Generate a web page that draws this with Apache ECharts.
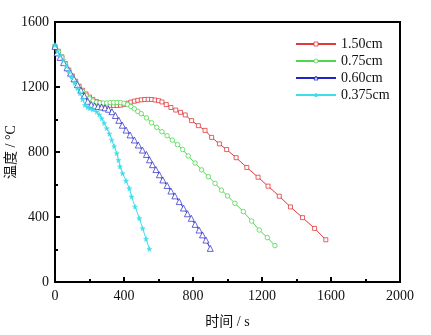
<!DOCTYPE html>
<html>
<head>
<meta charset="utf-8">
<script src="https://cdn.jsdelivr.net/npm/echarts@6/dist/echarts.min.js"></script>
<style>html,body{margin:0;padding:0;background:#fff;}#c{width:431px;height:335px;}</style>
</head>
<body>
<div id="c"></div>
<script>
var seriesNames = ['1.50cm', '0.75cm', '0.60cm', '0.375cm'];
var xTicks = [0, 400, 800, 1200, 1600, 2000];
var yTicks = [0, 400, 800, 1200, 1600];

var t150 = [0,20,40,60,80,100,120,140,160,180,200,220,240,260,280,300,320,340,360,380,400,420,440,460,480,500,520,540,560,580,600,620,645,672,700,728,755,792,831,870,908,953,995,1050,1112,1177,1235,1300,1365,1435,1505,1570];
var T150 = [1450,1420,1385,1345,1305,1268,1235,1205,1180,1157,1138,1122,1110,1102,1095,1090,1087,1086,1086,1088,1093,1100,1107,1113,1118,1121,1123,1124,1123,1120,1116,1108,1092,1074,1058,1044,1028,993,962,933,890,850,815,765,705,645,590,528,462,396,330,260];

var t075 = [0,20,40,60,80,100,120,140,160,180,200,220,240,260,280,300,320,340,360,380,400,420,440,460,480,500,530,560,590,620,650,680,710,740,772,812,850,889,928,965,1000,1043,1092,1140,1184,1231,1275];
var T075 = [1450,1418,1382,1342,1302,1265,1230,1200,1172,1148,1128,1114,1106,1102,1101,1102,1104,1105,1105,1104,1100,1092,1080,1066,1050,1036,1010,980,952,925,900,873,845,815,776,732,690,648,607,565,530,484,433,375,320,273,224];

var t060 = [0,12,30,50,70,90,110,130,150,170,190,210,230,250,270,290,310,330,350,370,390,412,435,460,483,507,530,548,565,585,605,625,650,672,695,720,745,768,790,812,835,855,875,900];
var T060 = [1450,1410,1382,1350,1318,1285,1250,1215,1180,1146,1112,1092,1084,1080,1077,1072,1063,1048,1025,995,965,935,905,874,843,812,785,752,722,692,660,628,594,560,530,495,455,420,392,355,320,290,258,207];

var t0375 = [0,15,30,48,65,82,97,115,130,145,160,174,190,203,220,242,257,271,285,300,315,329,343,358,368,377,392,412,431,444,464,489,508,528,547];
var T0375 = [1458,1420,1395,1366,1330,1295,1263,1225,1192,1161,1125,1089,1075,1069,1062,1048,1030,1007,978,946,912,874,835,792,750,710,669,622,576,525,463,392,330,265,203];

function zip(a, b) { return a.map(function (v, i) { return [v, b[i]]; }); }

var serif = '"Liberation Serif", "Noto Sans CJK SC", serif';
var star = 'path://M50,0 L61,35 L98,35 L68,57 L79,91 L50,70 L21,91 L32,57 L2,35 L39,35 Z';
var colors = ['#e03a3a', '#4fd84f', '#2323c8', '#40dce8'];
var fills = ['#fff', '#fff', '#fff', '#40dce8'];

function mk(i, data, symbol, size, bw) {
  return {
    name: seriesNames[i], type: 'line', data: data, symbol: symbol, symbolSize: size,
    showAllSymbol: true,
    lineStyle: { color: colors[i], width: 1 },
    itemStyle: { color: fills[i], borderColor: colors[i], borderWidth: bw },
    emphasis: { disabled: true },
    animation: false
  };
}
function plain(v) { return String(v); }

var chart = echarts.init(document.getElementById('c'), null, { renderer: 'canvas' });
chart.setOption({
  backgroundColor: '#fff',
  animation: false,
  grid: { left: 55, right: 31, top: 22, bottom: 53, containLabel: false, outerBoundsMode: 'none', show: true, borderColor: '#000', borderWidth: 2, backgroundColor: 'transparent' },
  legend: {
    orient: 'vertical', left: 290, top: 32, itemWidth: 40, itemHeight: 5, itemGap: 3,
    textStyle: { fontFamily: serif, fontSize: 14, color: '#111' },
    data: seriesNames.map(function (n, i) {
      return { name: n, itemStyle: { color: fills[i], borderColor: colors[i], borderWidth: 0.8 } };
    })
  },
  xAxis: {
    type: 'value', min: xTicks[0], max: xTicks[xTicks.length - 1], interval: xTicks[1] - xTicks[0],
    name: '时间 / s', nameLocation: 'middle', nameGap: 33, nameMoveOverlap: false,
    nameTextStyle: { fontFamily: serif, fontSize: 14, color: '#111' },
    axisLine: { lineStyle: { color: '#000', width: 2 } },
    axisTick: { inside: true, length: 5, lineStyle: { width: 2, color: '#000' } },
    minorTick: { show: true, splitNumber: 2, length: 3, lineStyle: { width: 2, color: '#000' } },
    axisLabel: { fontFamily: serif, fontSize: 14, color: '#111', margin: 7, formatter: plain },
    splitLine: { show: false }
  },
  yAxis: {
    type: 'value', min: yTicks[0], max: yTicks[yTicks.length - 1], interval: yTicks[1] - yTicks[0],
    name: '温度 / °C', nameLocation: 'middle', nameGap: 37, nameMoveOverlap: false,
    nameTextStyle: { fontFamily: serif, fontSize: 14, color: '#111' },
    axisLine: { lineStyle: { color: '#000', width: 2 } },
    axisTick: { inside: true, length: 5, lineStyle: { width: 2, color: '#000' } },
    minorTick: { show: true, splitNumber: 2, length: 3, lineStyle: { width: 2, color: '#000' } },
    axisLabel: { fontFamily: serif, fontSize: 14, color: '#111', margin: 6, formatter: plain },
    splitLine: { show: false }
  },
  series: [
    mk(0, zip(t150, T150), 'rect', 4, 0.8),
    mk(1, zip(t075, T075), 'circle', 4.5, 0.8),
    mk(2, zip(t060, T060), 'triangle', 6, 0.7),
    mk(3, zip(t0375, T0375), star, 5, 0.5)
  ]
});
</script>
</body>
</html>
